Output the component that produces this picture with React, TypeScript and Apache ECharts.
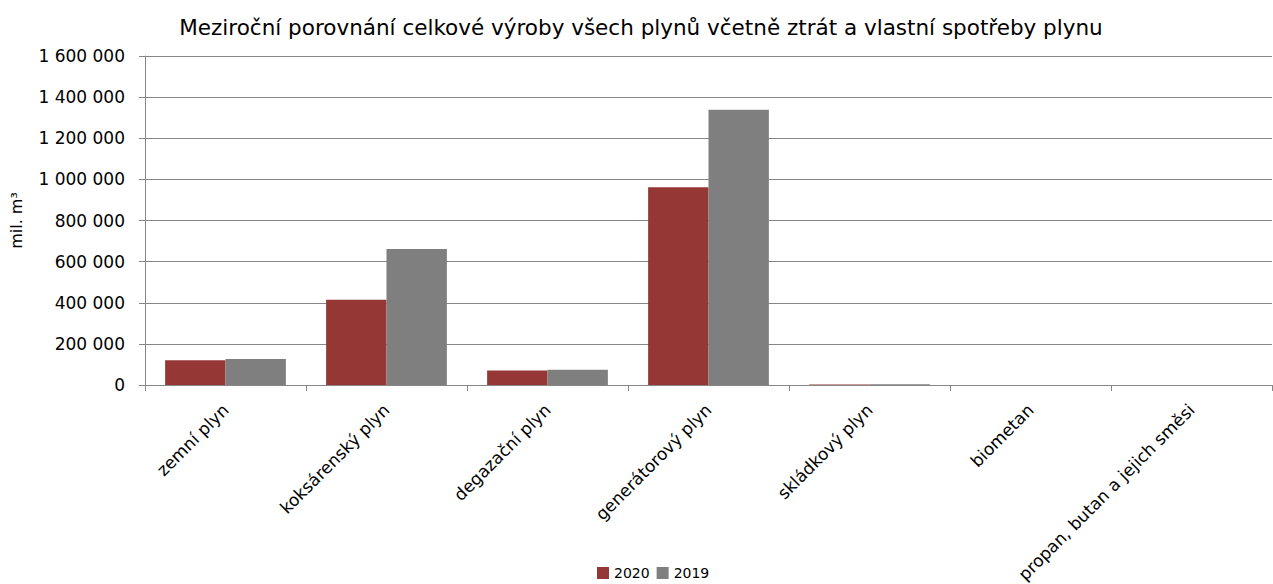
import React, { useEffect, useRef } from "react";
import * as echarts from "echarts";

const categories = [
  "zemní plyn",
  "koksárenský plyn",
  "degazační plyn",
  "generátorový plyn",
  "skládkový plyn",
  "biometan",
  "propan, butan a jejich směsi",
];
const values2020 = [120000, 415000, 70000, 962000, 3000, 0, 0];
const values2019 = [127000, 662000, 74000, 1338000, 3500, 0, 0];
const yTicks = [0, 200000, 400000, 600000, 800000, 1000000, 1200000, 1400000, 1600000];

const FONT = "DejaVu Sans";

function fmt(v: number): string {
  return String(v).replace(/\B(?=(\d{3})+(?!\d))/g, " ");
}

export default function App() {
  const ref = useRef<HTMLDivElement>(null);
  useEffect(() => {
    if (!ref.current) return;
    const chart = echarts.init(ref.current, null, { renderer: "svg" });
    chart.setOption({
      animation: false,
      backgroundColor: "#ffffff",
      title: {
        text: "Meziroční porovnání celkové výroby všech plynů včetně ztrát a vlastní spotřeby plynu",
        left: 636,
        textAlign: "center",
        top: 11,
        textStyle: { fontFamily: FONT, fontSize: 21.5, fontWeight: "normal", color: "#000" },
      },
      legend: {
        top: 561,
        left: 592,
        itemWidth: 12,
        itemHeight: 12,
        itemGap: 7,
        icon: "rect",
        textStyle: { fontFamily: FONT, fontSize: 14, color: "#000" },
        data: ["2020", "2019"],
      },
      grid: { left: 145, right: 1, top: 56, bottom: 199, containLabel: false, outerBoundsMode: "none" },
      xAxis: {
        type: "category",
        data: categories,
        axisLine: { lineStyle: { color: "#868686", width: 1 } },
        axisTick: { show: true, length: 6, lineStyle: { color: "#868686" } },
        axisLabel: {
          rotate: 45,
          interval: 0,
          margin: 22,
          fontFamily: FONT,
          fontSize: 17,
          color: "#000",
          padding: [12, 0, 0, 0],
        },
      },
      yAxis: {
        type: "value",
        min: 0,
        max: 1600000,
        interval: 200000,
        name: "mil. m³",
        nameLocation: "middle",
        nameGap: 121,
        nameTextStyle: { fontFamily: FONT, fontSize: 16, color: "#000" },
        axisLine: { show: true, lineStyle: { color: "#868686" } },
        axisTick: { show: true, length: 6, lineStyle: { color: "#868686" } },
        splitLine: { lineStyle: { color: "#868686", width: 1 } },
        axisLabel: {
          fontFamily: FONT,
          fontSize: 17,
          color: "#000",
          margin: 20,
          formatter: (v: number) => (yTicks.includes(v) ? fmt(v) : ""),
        },
      },
      series: [
        {
          name: "2020",
          type: "bar",
          data: values2020,
          itemStyle: { color: "#953735" },
          barGap: "0%",
          barCategoryGap: "25%",
        },
        {
          name: "2019",
          type: "bar",
          data: values2019,
          itemStyle: { color: "#7f7f7f" },
          barGap: "0%",
          barCategoryGap: "25%",
        },
      ],
    });
    return () => chart.dispose();
  }, []);
  return (
    <div
      ref={ref}
      style={{ position: "absolute", left: 0, top: 0, width: 1273, height: 584 }}
    />
  );
}
